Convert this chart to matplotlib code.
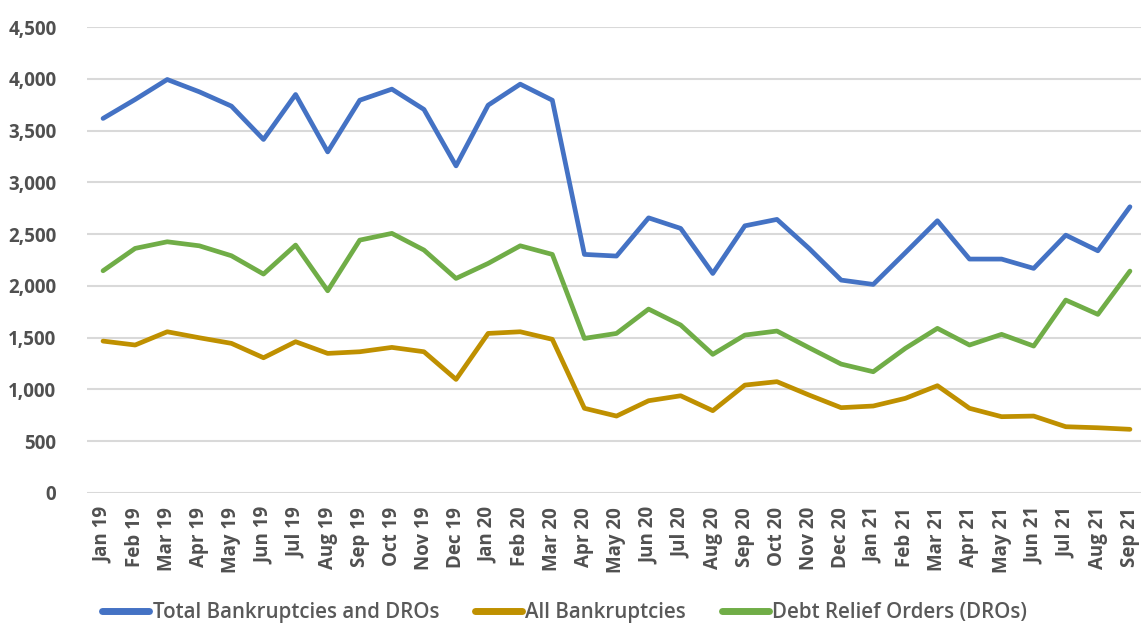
"""
Monthly insolvency counts, Jan 2019 to Sep 2021.
"""
import matplotlib
matplotlib.use("Agg")
import matplotlib.pyplot as plt
from matplotlib.ticker import FuncFormatter

months = ["Jan 19", "Feb 19", "Mar 19", "Apr 19", "May 19", "Jun 19", "Jul 19",
          "Aug 19", "Sep 19", "Oct 19", "Nov 19", "Dec 19",
          "Jan 20", "Feb 20", "Mar 20", "Apr 20", "May 20", "Jun 20", "Jul 20",
          "Aug 20", "Sep 20", "Oct 20", "Nov 20", "Dec 20",
          "Jan 21", "Feb 21", "Mar 21", "Apr 21", "May 21", "Jun 21", "Jul 21",
          "Aug 21", "Sep 21"]

total = [3617, 3800, 3993, 3874, 3736, 3414, 3848, 3294, 3793, 3900, 3704, 3159,
         3745, 3948, 3793, 2304, 2288, 2657, 2555, 2120, 2580, 2642, 2362, 2056,
         2014, 2320, 2629, 2259, 2259, 2169, 2490, 2339, 2764]

bankruptcies = [1467, 1429, 1557, 1499, 1445, 1306, 1461, 1348, 1364, 1406, 1364, 1097,
                1541, 1557, 1484, 818, 743, 891, 939, 795, 1042, 1075, 946, 824,
                840, 914, 1036, 818, 737, 743, 640, 630, 615]

dros = [2146, 2362, 2426, 2387, 2291, 2114, 2394, 1953, 2442, 2507, 2346, 2072,
        2217, 2387, 2304, 1493, 1541, 1776, 1622, 1339, 1525, 1564, 1403, 1245,
        1171, 1397, 1590, 1429, 1532, 1419, 1863, 1725, 2143]

plt.rcParams['font.family'] = ['Open Sans', 'DejaVu Sans']

fig = plt.figure(figsize=(11.41, 6.28), dpi=100)
ax = fig.add_axes([87 / 1141, 135 / 628, 1059 / 1141, 466 / 628])

x = range(len(months))
lw = 3.4
ax.plot(x, total, color='#4472C4', lw=lw, solid_joinstyle='round',
        solid_capstyle='round', label="Total Bankruptcies and DROs")
ax.plot(x, bankruptcies, color='#BF9000', lw=lw, solid_joinstyle='round',
        solid_capstyle='round', label="All Bankruptcies")
ax.plot(x, dros, color='#70AD47', lw=lw, solid_joinstyle='round',
        solid_capstyle='round', label="Debt Relief Orders (DROs)")

ax.set_xlim(-0.5, len(months) - 0.5)
ax.set_ylim(0, 4500)
ax.set_yticks(range(0, 4501, 500))
ax.yaxis.set_major_formatter(FuncFormatter(lambda v, p: f"{int(v):,}"))
ax.set_xticks(list(x))
ax.set_xticklabels(months, rotation=90)

ax.grid(axis='y', color='#D9D9D9', lw=1.5)
ax.set_axisbelow(True)
for s in ax.spines.values():
    s.set_visible(False)
ax.tick_params(length=0, colors='#505050', labelsize=13.5)
ax.tick_params(axis='y', pad=22)
ax.tick_params(axis='x', pad=10)
for lab in ax.get_xticklabels() + ax.get_yticklabels():
    lab.set_fontweight('bold')

leg = fig.legend(loc='center', ncol=3, frameon=False,
                 bbox_to_anchor=(0.495, 0.024), fontsize=14.8, handlelength=2.3,
                 columnspacing=1.75, handletextpad=0.15)
for t in leg.get_texts():
    t.set_color('#595959')
    t.set_fontweight('semibold')
for h in leg.get_lines():
    h.set_linewidth(5)
    h.set_solid_capstyle('round')

fig.savefig("out.png", dpi=100)
